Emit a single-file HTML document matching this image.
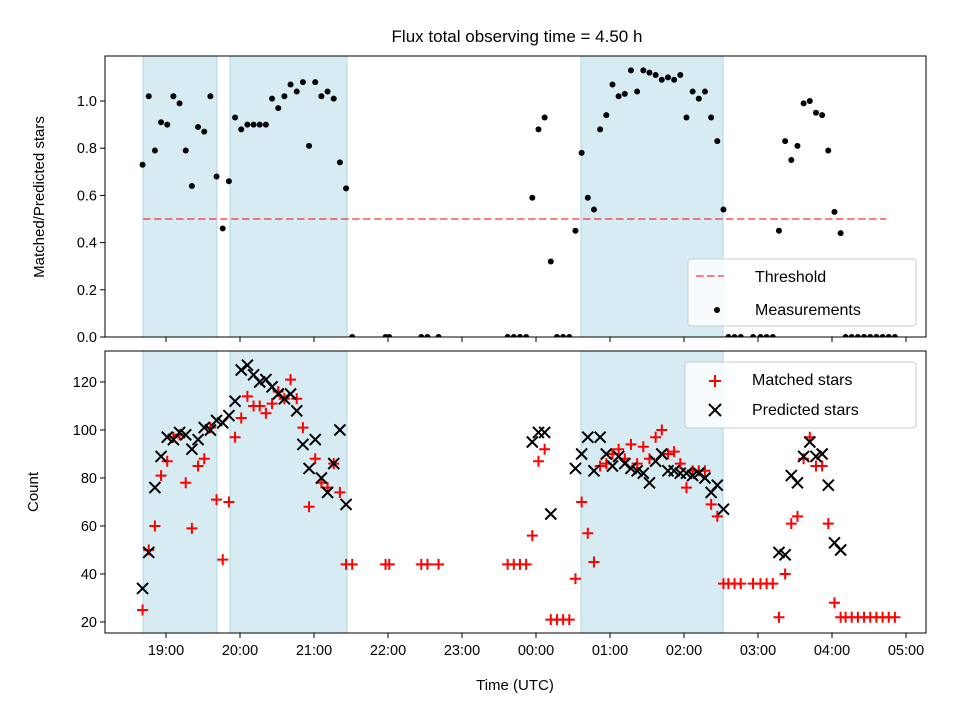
<!DOCTYPE html>
<html><head><meta charset="utf-8"><style>
html,body{margin:0;padding:0;background:#fff;}
svg{display:block;font-family:"Liberation Sans","DejaVu Sans",sans-serif;}
</style></head><body>
<svg id="chart" width="960" height="720" viewBox="0 0 960 720" xmlns="http://www.w3.org/2000/svg">
<defs>
<clipPath id="clipTop"><rect x="105" y="56" width="821" height="281"/></clipPath>
<clipPath id="clipBot"><rect x="105" y="351" width="821" height="282"/></clipPath>
</defs>
<text x="517" y="42" text-anchor="middle" font-size="17">Flux total observing time = 4.50 h</text>
<g id="topPanel"></g>
<g id="botPanel"></g>
<text transform="translate(44,197) rotate(-90)" text-anchor="middle" font-size="15">Matched/Predicted stars</text>
<text transform="translate(38,492) rotate(-90)" text-anchor="middle" font-size="15">Count</text>
<text x="515" y="690" text-anchor="middle" font-size="15">Time (UTC)</text>
</svg>
<script>
// minutes since 18:00 UTC
const times = [41,46,51,56,61,66,71,76,81,86,91,96,101,106,111,116,121,126,131,136,141,146,151,156,161,166,171,176,181,186,191,196,201,206,211,
238,241,267,272,281,337,342,347,352,
357,362,367,372,377,382,387,392,397,402,407,412,417,422,427,432,437,442,447,452,457,462,467,472,477,482,487,492,497,502,507,512,
516,521,526,536,542,547,552,
557,562,567,572,577,582,587,592,597,602,607,
611,616,621,626,631,636,641,646,651];
const ratio = [.73,1.02,.79,.91,.90,1.02,.99,.79,.64,.89,.87,1.02,.68,.46,.66,.93,.88,.90,.90,.90,.90,1.01,.97,1.02,1.07,1.04,1.08,.81,1.08,1.02,1.04,1.01,.74,.63,0,
0,0,0,0,0,0,0,0,0,
.59,.88,.93,.32,0,0,0,.45,.78,.59,.54,.88,.94,1.07,1.02,1.03,1.13,1.04,1.13,1.12,1.11,1.09,1.10,1.09,1.11,.93,1.04,1.01,1.04,.93,.83,.54,
0,0,0,0,0,0,0,
.45,.83,.75,.81,.99,1.00,.95,.94,.79,.53,.44,
0,0,0,0,0,0,0,0,0];
const matched = [25,50,60,81,87,97,98,78,59,85,88,101,71,46,70,97,105,114,110,110,107,111,116,113,121,113,101,68,88,78,76,86,74,44,44,
44,44,44,44,44,44,44,44,44,
56,87,92,21,21,21,21,38,70,57,45,85,86,90,92,88,94,86,93,88,97,100,90,91,86,76,83,83,83,69,64,36,
36,36,36,36,36,36,36,
22,40,61,64,88,97,85,85,61,28,22,
22,22,22,22,22,22,22,22,22];
const predicted = [34,49,76,89,97,96,99,98,92,96,101,100,104,103,106,112,125,127,123,120,121,118,115,113,115,108,94,84,96,80,74,86,100,69,null,
null,null,null,null,null,null,null,null,null,
95,99,99,65,null,null,null,84,90,97,83,97,90,85,89,86,84,83,82,78,87,90,83,83,82,82,81,82,80,74,77,67,
null,null,null,null,null,null,null,
49,48,81,78,89,95,89,90,77,53,50,
null,null,null,null,null,null,null,null,null];
const spanStart = [41.4,111.9,396.5];
const spanEnd = [101.3,206.8,511.6];
const xTickMin = [60,120,180,240,300,360,420,480,540,600,660];
const xTickLabels = ["19:00","20:00","21:00","22:00","23:00","00:00","01:00","02:00","03:00","04:00","05:00"];
const topTicks = [0.0,0.2,0.4,0.6,0.8,1.0];
const botTicks = [20,40,60,80,100,120];
const threshold = 0.5, thrStart = 41.4, thrEnd = 644;

const NS="http://www.w3.org/2000/svg";
const X = m => 166 + (m-60)*74/60;
const YT = v => 337 - v*236;
const YB = v => 622 - (v-20)*2.4;
function mk(parent, tag, attrs){const e=document.createElementNS(NS,tag);for(const k in attrs)e.setAttribute(k,attrs[k]);parent.appendChild(e);return e;}
const topG=document.getElementById('topPanel'), botG=document.getElementById('botPanel');

function panel(g, y0, y1, ticks, Y, fmt, labelTicks){
  for(let i=0;i<spanStart.length;i++){
    const r=mk(g,'rect',{x:X(spanStart[i]),y:y0,width:X(spanEnd[i])-X(spanStart[i]),height:y1-y0,fill:'#add8e6','fill-opacity':0.5,stroke:'#add8e6','stroke-width':1});
    
    
  }
  for(let i=0;i<ticks.length;i++){
    const y=Y(ticks[i]);
    const t=mk(g,'line',{x1:100,x2:105,y1:y,y2:y,stroke:'#000','stroke-width':1});
    
    
    const l=mk(g,'text',{x:97,y:y+5,'text-anchor':'end','font-size':14.5});
    l.textContent=fmt(ticks[i]);
    
    
  }
  for(let i=0;i<xTickMin.length;i++){
    const x=X(xTickMin[i]);
    const t=mk(g,'line',{x1:x,x2:x,y1:y1,y2:y1+5,stroke:'#000','stroke-width':1});
    
    
    if(labelTicks){
      const l=mk(g,'text',{x:x,y:y1+22,'text-anchor':'middle','font-size':14.5});
      l.textContent=xTickLabels[i];
      
      
    }
  }
}
panel(topG,56,337,topTicks,YT,v=>v.toFixed(1),false);
panel(botG,351,633,botTicks,YB,v=>String(v),true);

const th=mk(topG,'line',{x1:X(thrStart),x2:X(thrEnd),y1:YT(threshold),y2:YT(threshold),stroke:'#ff0000','stroke-opacity':0.5,'stroke-width':2,'stroke-dasharray':'7.5,3.5'});



const tg=mk(topG,'g',{'clip-path':'url(#clipTop)'});
for(let i=0;i<times.length;i++){
  const c=mk(tg,'circle',{cx:X(times[i]),cy:YT(ratio[i]),r:3,fill:'#000'});
  
  
}
const bg=mk(botG,'g',{'clip-path':'url(#clipBot)'});
for(let i=0;i<times.length;i++){
  const x=X(times[i]),y=YB(matched[i]);
  const p=mk(bg,'path',{d:`M${x-5.5},${y}H${x+5.5}M${x},${y-5.5}V${y+5.5}`,stroke:'#ff0000','stroke-width':2,fill:'none'});
  
  
}
for(let i=0;i<times.length;i++){
  if(predicted[i]===null)continue;
  const x=X(times[i]),y=YB(predicted[i]);
  const p=mk(bg,'path',{d:`M${x-5.5},${y-5.5}L${x+5.5},${y+5.5}M${x-5.5},${y+5.5}L${x+5.5},${y-5.5}`,stroke:'#000','stroke-width':2,fill:'none'});
  
  
}
const f1=mk(topG,'rect',{x:105,y:56,width:821,height:281,fill:'none',stroke:'#000','stroke-width':1});


const f2=mk(botG,'rect',{x:105,y:351,width:821,height:282,fill:'none',stroke:'#000','stroke-width':1});



const lg1=mk(topG,'g',{});


mk(lg1,'rect',{x:688,y:259,width:228,height:67,rx:3,fill:'#fff','fill-opacity':0.8,stroke:'#ccc','stroke-width':1});
mk(lg1,'line',{x1:696,x2:724,y1:276,y2:276,stroke:'#ff0000','stroke-opacity':0.5,'stroke-width':2,'stroke-dasharray':'7.5,3.5'});
let t=mk(lg1,'text',{x:755,y:282,'font-size':16});t.textContent='Threshold';
mk(lg1,'circle',{cx:717,cy:310,r:3,fill:'#000'});
t=mk(lg1,'text',{x:755,y:315,'font-size':16});t.textContent='Measurements';

const lg2=mk(botG,'g',{});


mk(lg2,'rect',{x:685,y:362,width:231,height:66,rx:3,fill:'#fff','fill-opacity':0.8,stroke:'#ccc','stroke-width':1});
mk(lg2,'path',{d:'M709,381H721M715,375V387',stroke:'#ff0000','stroke-width':2});
t=mk(lg2,'text',{x:752,y:385,'font-size':16});t.textContent='Matched stars';
mk(lg2,'path',{d:'M709,404L721,416M709,416L721,404',stroke:'#000','stroke-width':2});
t=mk(lg2,'text',{x:752,y:415,'font-size':16});t.textContent='Predicted stars';
</script>
</body></html>
